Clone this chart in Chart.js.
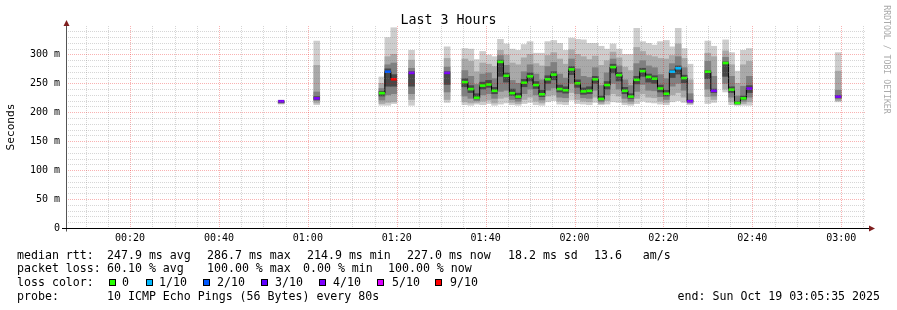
<!DOCTYPE html>
<html>
<head>
<meta charset="utf-8">
<script src="https://cdn.jsdelivr.net/npm/chart.js@4.4.1/dist/chart.umd.min.js"></script>
<style>
  html, body { margin: 0; padding: 0; background: #fff; }
  #wrap { width: 897px; height: 310px; }
</style>
</head>
<body>
<div id="wrap"><canvas id="myChart" width="897" height="310"></canvas></div>
<script>
// one RRD step = 80 s; times are seconds after 00:00
const STEP = 80;
const endTime = 11135;          // 03:05:35
const span = 3 * 3600;

// end of each step that has answers (steps with 10/10 lost are left out)
const stepEnd = [3280, 3760, 4640, 4720, 4800, 5040, 5520,
  5760, 5840, 5920, 6000, 6080, 6160, 6240, 6320, 6400, 6480,
  6560, 6640, 6720, 6800, 6880, 6960, 7040, 7120, 7200, 7280,
  7360, 7440, 7520, 7600, 7680, 7760, 7840, 7920, 8000, 8080,
  8160, 8240, 8320, 8400, 8480, 8560, 8640, 8720, 8800,
  9040, 9120, 9280, 9360, 9440, 9520, 9600, 10800];

// median rtt in ms
const medians = [219, 224, 233, 270, 257, 268, 268,
  252, 240, 225, 246, 248, 237, 287, 263, 233, 227,
  251, 262, 247, 231, 257, 265, 240, 238, 274, 250,
  236, 237, 257, 223, 247, 278, 264, 237, 227, 256,
  271, 261, 258, 241, 232, 270, 276, 259, 219,
  270, 237, 285, 239, 216, 224, 241, 227];

// lost pings out of 10
const lost = [4, 4, 0, 2, 9, 4, 4,
  0, 0, 0, 0, 0, 0, 0, 0, 0, 0,
  0, 0, 0, 0, 0, 0, 0, 0, 0, 0,
  0, 0, 0, 0, 0, 0, 0, 0, 0, 0,
  0, 0, 0, 0, 0, 1, 1, 0, 4,
  0, 4, 0, 0, 0, 0, 4, 4];

// sorted rtts (ms) per step, smoke is drawn from the outer pairs inwards
const pings = [
  [214, 215, 216, 217, 219, 220, 220, 221],
  [213, 216, 220, 222, 227, 235, 281, 323],
  [212, 215, 221, 228, 236, 241, 250, 261],
  [212, 217, 230, 245, 275, 282, 296, 329],
  [215, 218, 232, 245, 265, 285, 300, 346],
  [212, 222, 232, 245, 270, 276, 290, 307],
  [217, 222, 235, 248, 270, 278, 293, 313],
  [213, 218, 228, 244, 258, 272, 292, 310],
  [212, 216, 224, 234, 246, 262, 288, 309],
  [214, 217, 220, 223, 232, 248, 270, 291],
  [213, 219, 230, 240, 252, 266, 285, 305],
  [215, 221, 232, 243, 255, 268, 283, 299],
  [212, 216, 224, 232, 243, 258, 279, 296],
  [214, 224, 236, 262, 290, 298, 307, 326],
  [216, 226, 238, 252, 268, 281, 299, 318],
  [213, 217, 222, 229, 240, 255, 285, 309],
  [212, 215, 219, 224, 233, 250, 282, 307],
  [215, 222, 232, 244, 257, 270, 294, 317],
  [217, 226, 240, 254, 268, 282, 300, 322],
  [213, 219, 230, 241, 253, 266, 284, 302],
  [212, 216, 221, 227, 238, 256, 280, 302],
  [218, 228, 238, 250, 263, 279, 298, 322],
  [220, 230, 242, 256, 270, 286, 303, 324],
  [214, 219, 226, 235, 247, 266, 292, 319],
  [213, 218, 225, 233, 244, 259, 283, 307],
  [221, 234, 250, 265, 279, 292, 308, 328],
  [215, 222, 232, 243, 256, 275, 300, 326],
  [214, 219, 225, 231, 242, 262, 296, 325],
  [213, 218, 224, 232, 244, 260, 291, 319],
  [217, 226, 238, 250, 262, 277, 297, 319],
  [213, 215, 218, 221, 228, 246, 281, 314],
  [214, 220, 230, 240, 253, 268, 289, 309],
  [218, 232, 250, 268, 283, 292, 304, 318],
  [217, 228, 240, 254, 269, 280, 294, 309],
  [213, 217, 224, 232, 243, 256, 278, 300],
  [212, 215, 219, 224, 232, 246, 272, 300],
  [215, 224, 236, 249, 262, 284, 312, 345],
  [219, 232, 248, 262, 276, 289, 305, 322],
  [217, 226, 238, 252, 266, 280, 298, 319],
  [216, 225, 237, 250, 263, 277, 296, 316],
  [214, 219, 227, 235, 247, 265, 293, 322],
  [213, 217, 222, 228, 238, 258, 292, 324],
  [218, 230, 245, 260, 273, 284, 298, 313],
  [220, 234, 250, 266, 280, 296, 318, 345],
  [217, 226, 238, 251, 264, 277, 293, 310],
  [213, 215, 217, 218, 221, 232, 256, 283],
  [215, 227, 240, 258, 272, 288, 302, 323],
  [217, 222, 228, 234, 240, 262, 296, 314],
  [235, 240, 250, 262, 287, 295, 306, 325],
  [213, 218, 226, 234, 244, 262, 282, 303],
  [212, 213, 214, 215, 218, 228, 250, 271],
  [212, 215, 219, 222, 228, 245, 282, 307],
  [212, 218, 226, 234, 246, 262, 288, 310],
  [218, 220, 223, 225, 229, 238, 271, 303]
];

const lossLevels = [0, 1, 2, 3, 4, 5, 9];
const lossLabels = ['0', '1/10', '2/10', '3/10', '4/10', '5/10', '9/10'];
const lossColors = ['#26ff00', '#00b8ff', '#0059ff', '#5e00ff', '#7e00ff', '#dd00ff', '#ff0000'];
const smokeGrays = ['#cdcdcd', '#a9a9a9', '#808080', '#484848'];

const timeTicks = [1200, 2400, 3600, 4800, 6000, 7200, 8400, 9600, 10800];
const timeLabels = ['00:20', '00:40', '01:00', '01:20', '01:40', '02:00', '02:20', '02:40', '03:00'];
const rttTicks = [0, 50, 100, 150, 200, 250, 300];
const rttLabels = ['0', '50 m', '100 m', '150 m', '200 m', '250 m', '300 m'];

const rttStats = ['247.9 ms avg', '286.7 ms max', '214.9 ms min', '227.0 ms now', '18.2 ms sd', '13.6   am/s'];
const lossStats = ['60.10 % avg', '100.00 % max', '0.00 % min', '100.00 % now'];
const probeText = '10 ICMP Echo Pings (56 Bytes) every 80s';
const endText = 'end: Sun Oct 19 03:05:35 2025';

// ---- build datasets
const lossColor = (n) => {
  let c = lossColors[0];
  lossLevels.forEach((lv, j) => { if (n >= lv) c = lossColors[j]; });
  return c;
};
const mid = (i) => stepEnd[i] - STEP / 2;

const smokeSets = smokeGrays.map((gray, b) => ({
  type: 'bar',
  data: stepEnd.map((t, i) => ({ x: mid(i), y: [pings[i][b], pings[i][7 - b]] })),
  backgroundColor: gray,
  borderWidth: 0,
  grouped: false,
  barPercentage: 1,
  categoryPercentage: 1,
  order: 5 - b
}));

const stepLine = [];
stepEnd.forEach((t, i) => {
  if (i > 0 && t - stepEnd[i - 1] !== STEP) stepLine.push({ x: t - STEP, y: null });
  stepLine.push({ x: mid(i), y: medians[i] });
});

const markerColors = lost.map(lossColor);

const minorGrid = 'rgba(128,128,128,0.32)';
const majorGrid = 'rgba(235,0,0,0.3)';
const arrowRed = '#7f1f1f';
const mono = '"DejaVu Sans Mono", monospace';

const rrdDecor = {
  id: 'rrdDecor',
  afterDatasetsDraw(chart) {
    const { ctx, chartArea: a, scales: { x, y } } = chart;
    ctx.save();
    ctx.lineWidth = 1;
    ctx.setLineDash([1, 1]);
    x.ticks.forEach(t => {
      const px = Math.round(x.getPixelForValue(t.value)) + 0.5;
      ctx.strokeStyle = t.value % 1200 === 0 ? majorGrid : minorGrid;
      ctx.beginPath(); ctx.moveTo(px, a.top); ctx.lineTo(px, a.bottom); ctx.stroke();
    });
    y.ticks.forEach(t => {
      if (t.value === 0) return;
      const py = Math.round(y.getPixelForValue(t.value)) + 0.5;
      ctx.strokeStyle = t.value % 50 === 0 ? majorGrid : minorGrid;
      ctx.beginPath(); ctx.moveTo(a.left, py); ctx.lineTo(a.right, py); ctx.stroke();
    });
    ctx.setLineDash([]);
    // axes
    const ax = Math.round(a.left) + 0.5, ay = Math.round(a.bottom) + 0.5;
    ctx.strokeStyle = '#555';
    ctx.beginPath(); ctx.moveTo(ax, ay + 3); ctx.lineTo(ax, a.top - 4); ctx.stroke();
    ctx.strokeStyle = '#000';
    ctx.beginPath(); ctx.moveTo(a.left - 4, ay); ctx.lineTo(a.right + 3, ay); ctx.stroke();
    ctx.fillStyle = arrowRed;
    ctx.beginPath(); ctx.moveTo(ax - 3, a.top); ctx.lineTo(ax + 3, a.top); ctx.lineTo(ax, a.top - 6); ctx.closePath(); ctx.fill();
    ctx.beginPath(); ctx.moveTo(a.right + 3, ay - 3); ctx.lineTo(a.right + 3, ay + 3); ctx.lineTo(a.right + 9, ay); ctx.closePath(); ctx.fill();
    ctx.restore();
  },
  afterDraw(chart) {
    const { ctx, chartArea: a } = chart;
    ctx.save();
    ctx.fillStyle = '#000';
    ctx.textBaseline = 'alphabetic';
    ctx.font = '13.3px ' + mono;
    ctx.textAlign = 'center';
    ctx.fillText('Last 3 Hours', 448.5, 24);

    ctx.save();
    ctx.font = '11.2px ' + mono;
    ctx.translate(11, (a.top + a.bottom) / 2);
    ctx.rotate(-Math.PI / 2);
    ctx.textBaseline = 'middle';
    ctx.fillText('Seconds', 0, 0);
    ctx.restore();

    ctx.save();
    ctx.font = '8.2px ' + mono;
    ctx.fillStyle = '#aaaaaa';
    ctx.translate(886, 59.5);
    ctx.rotate(Math.PI / 2);
    ctx.textBaseline = 'middle';
    ctx.fillText('RRDTOOL / TOBI OETIKER', 0, 0);
    ctx.restore();

    ctx.font = '11.6px ' + mono;
    ctx.textAlign = 'left';
    const rows = [258.5, 272.3, 286, 299.8];
    ctx.fillText('median rtt:', 17, rows[0]);
    [107, 207, 307, 407, 508, 594].forEach((px, j) => ctx.fillText(rttStats[j], px, rows[0]));
    ctx.fillText('packet loss:', 17, rows[1]);
    [107, 207, 303, 388].forEach((px, j) => ctx.fillText(lossStats[j], px, rows[1]));
    ctx.fillText('loss color:', 17, rows[2]);
    const sq = [109, 146, 203, 261, 319, 377, 435];
    const lab = [122, 159, 217, 275, 333, 392, 450];
    lossColors.forEach((c, j) => {
      ctx.fillStyle = c;
      ctx.fillRect(sq[j], 279, 7, 7);
      ctx.strokeStyle = '#000';
      ctx.lineWidth = 1;
      ctx.strokeRect(sq[j] + 0.5, 279.5, 6, 6);
      ctx.fillStyle = '#000';
      ctx.fillText(lossLabels[j], lab[j], rows[2]);
    });
    ctx.fillText('probe:', 17, rows[3]);
    ctx.fillText(probeText, 107, rows[3]);
    ctx.textAlign = 'right';
    ctx.fillText(endText, 880, rows[3]);
    ctx.restore();
  }
};

const gridTimes = [];
for (let t = 600; t <= endTime; t += 300) gridTimes.push(t);
const gridRtts = [];
for (let v = 0; v <= 340; v += 10) gridRtts.push(v);

const ctx = document.getElementById('myChart').getContext('2d');
const myChart = new Chart(ctx, {
  type: 'bar',
  data: {
    datasets: [
      {
        type: 'line',
        data: stepEnd.map((t, i) => ({ x: mid(i), y: medians[i] })),
        showLine: false,
        pointStyle: 'line',
        pointRadius: 2.96,
        pointHoverRadius: 2.96,
        pointBorderWidth: 2.6,
        pointBorderColor: markerColors,
        pointBackgroundColor: markerColors,
        order: 0
      },
      {
        type: 'line',
        data: stepLine,
        borderColor: '#000',
        borderWidth: 1,
        pointRadius: 0,
        stepped: 'middle',
        spanGaps: false,
        order: 1
      },
      ...smokeSets
    ]
  },
  options: {
    responsive: false,
    animation: false,
    devicePixelRatio: 1,
    events: [],
    layout: { padding: { top: 26, right: 31, bottom: 62, left: 0 } },
    plugins: { legend: { display: false }, tooltip: { enabled: false }, title: { display: false } },
    scales: {
      x: {
        type: 'linear',
        offset: false,
        min: endTime - span,
        max: endTime,
        bounds: 'data',
        afterBuildTicks: (s) => { s.ticks = gridTimes.map(v => ({ value: v })); },
        afterFit: (s) => { s.height = 20; },
        grid: { display: false, drawTicks: false, offset: false },
        border: { display: false },
        ticks: {
          autoSkip: false, maxRotation: 0, padding: 4, color: '#000',
          font: { family: 'DejaVu Sans Mono', size: 10 },
          callback: (v) => { const j = timeTicks.indexOf(v); return j >= 0 ? timeLabels[j] : ''; }
        }
      },
      y: {
        min: 0,
        max: 349,
        stacked: false,
        bounds: 'data',
        afterBuildTicks: (s) => { s.ticks = gridRtts.map(v => ({ value: v })); },
        afterFit: (s) => { s.width = 66; },
        grid: { display: false, drawTicks: false },
        border: { display: false },
        ticks: {
          autoSkip: false, padding: 6, color: '#000',
          font: { family: 'DejaVu Sans Mono', size: 10 },
          callback: (v) => { const j = rttTicks.indexOf(v); return j >= 0 ? rttLabels[j] : ''; }
        }
      }
    }
  },
  plugins: [rrdDecor]
});
</script>
</body>
</html>
